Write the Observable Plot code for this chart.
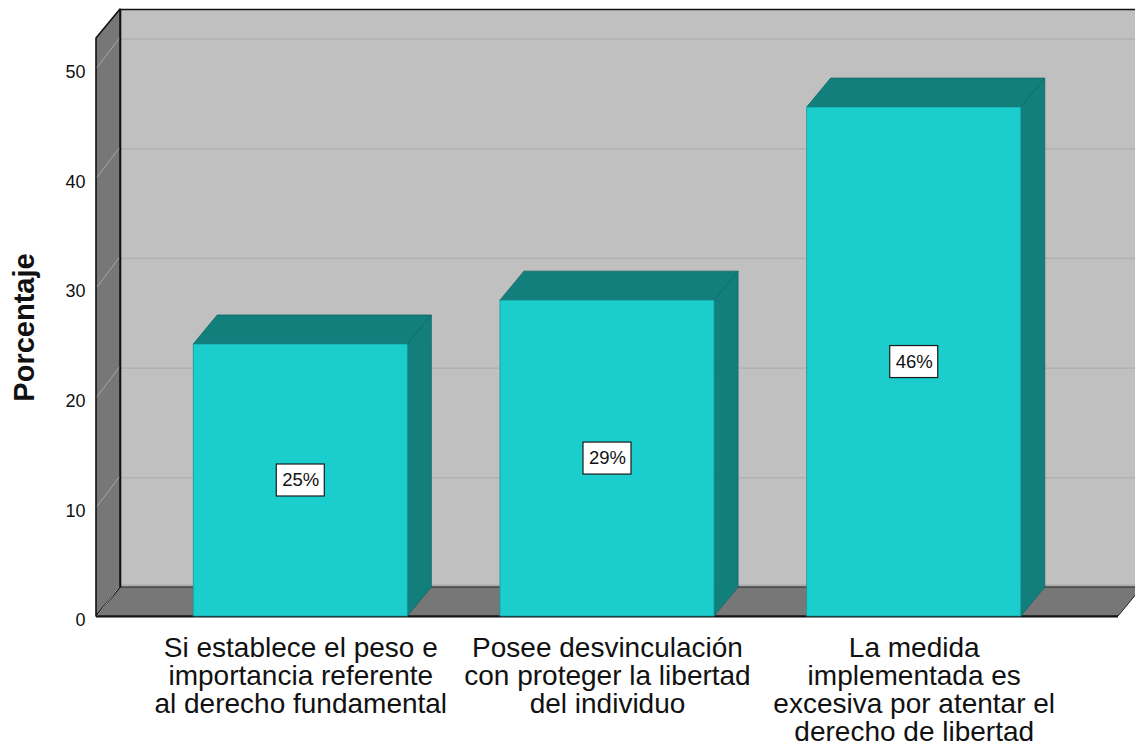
<!DOCTYPE html>
<html>
<head>
<meta charset="utf-8">
<script src="https://cdn.jsdelivr.net/npm/d3@7"></script>
<script src="https://cdn.jsdelivr.net/npm/@observablehq/plot@0.6"></script>
<style>
  html, body { margin: 0; padding: 0; background: #ffffff; overflow: hidden; }
  #chart { width: 1135px; height: 747px; }
</style>
</head>
<body>
<div id="chart"></div>
<script>
// ---- data ----
const categories = [
  "Si establece el peso e\nimportancia referente\nal derecho fundamental",
  "Posee desvinculación\ncon proteger la libertad\ndel individuo",
  "La medida\nimplementada es\nexcesiva por atentar el\nderecho de libertad"
];
const values = [24.8, 28.8, 46.4];
const valueLabels = ["25%", "29%", "46%"];
const yTicks = [0, 10, 20, 30, 40, 50];
const yTitle = "Porcentaje";

// ---- layout / style constants ----
const xDomain = [-0.666, 2.666];
const yDomain = [0, 52.7];
const half = 0.349;          // half bar width in band units
const DX = 24, DY = -29;     // 3D depth offset in pixels
const FONT = "'Liberation Sans', Arial, sans-serif";

const bars = categories.map((c, i) => ({i, cat: c, value: values[i], label: valueLabels[i]}));

function poly(g, pts, fill, stroke, sw) {
  g.append("polygon")
    .attr("points", pts.map(p => p.join(",")).join(" "))
    .attr("fill", fill)
    .attr("stroke", stroke || "none")
    .attr("stroke-width", sw || 1)
    .attr("stroke-linejoin", "round");
}

// left wall + floor drawn through the scales
const wallsMark = (index, scales) => {
  const sx = scales.x, sy = scales.y;
  const g = d3.create("svg:g");
  const xl = sx(xDomain[0]), xr = sx(xDomain[1]);
  const y0 = sy(0), yt = sy(yDomain[1]);
  // floor
  poly(g, [[xl, y0], [xr, y0], [xr + DX, y0 + DY], [xl + DX, y0 + DY]], "#777777", "#222", 1);
  // left wall
  poly(g, [[xl, y0], [xl, yt], [xl + DX, yt + DY], [xl + DX, y0 + DY]], "#777777", "#111", 1.6);
  // left wall gridlines
  for (const v of yTicks) {
    g.append("line")
      .attr("x1", xl + 1).attr("y1", sy(v))
      .attr("x2", xl + DX - 1).attr("y2", sy(v) + DY)
      .attr("stroke", "#a6a6a6").attr("stroke-width", 1);
  }
  return g.node();
};

// bar top & side faces
const barFacesMark = (index, scales) => {
  const sx = scales.x, sy = scales.y;
  const g = d3.create("svg:g");
  for (const d of bars) {
    const x1 = sx(d.i - half), x2 = sx(d.i + half);
    const y0 = sy(0), yv = sy(d.value);
    poly(g, [[x2, y0], [x2, yv], [x2 + DX, yv + DY], [x2 + DX, y0 + DY]], "#127f7d", "#0e6866", 0.8);
    poly(g, [[x1, yv], [x2, yv], [x2 + DX, yv + DY], [x1 + DX, yv + DY]], "#127f7d", "#0e6866", 0.8);
  }
  return g.node();
};

// white label boxes
const labelBoxMark = (index, scales) => {
  const sx = scales.x, sy = scales.y;
  const g = d3.create("svg:g");
  for (const d of bars) {
    g.append("rect")
      .attr("x", sx(d.i) - 24).attr("y", sy(d.value / 2) - 16)
      .attr("width", 48).attr("height", 32)
      .attr("fill", "#ffffff").attr("stroke", "#1a1a1a").attr("stroke-width", 1.2);
  }
  return g.node();
};

const chart = Plot.plot({
  width: 1135,
  height: 747,
  marginLeft: 96,
  marginRight: 17,
  marginTop: 38,
  marginBottom: 131,
  style: {fontFamily: FONT, background: "#ffffff"},
  x: {type: "linear", domain: xDomain, axis: null},
  y: {type: "linear", domain: yDomain, axis: null},
  marks: [
    // back wall
    Plot.rect([{x1: xDomain[0], x2: xDomain[1], y1: yDomain[0], y2: yDomain[1]}],
      {x1: "x1", x2: "x2", y1: "y1", y2: "y2", dx: DX, dy: DY, fill: "#c0c0c0"}),
    // back wall gridlines
    Plot.ruleY(yTicks.filter(v => v > 0), {dx: DX, dy: DY, stroke: "#aeaeae", strokeWidth: 1.2}),
    Plot.ruleY([0], {dx: DX, dy: DY - 1.5, stroke: "#a9a9a9", strokeWidth: 3}),
    // back wall top & left edges
    Plot.ruleY([yDomain[1]], {dx: DX, dy: DY, stroke: "#111", strokeWidth: 1.6}),
    Plot.ruleX([xDomain[0]], {y1: yDomain[0], y2: yDomain[1], dx: DX, dy: DY, stroke: "#111", strokeWidth: 1.6}),
    // floor and left wall
    wallsMark,
    // floor front edge
    Plot.ruleY([0], {stroke: "#111", strokeWidth: 2}),
    // bars
    barFacesMark,
    Plot.rect(bars, {x1: d => d.i - half, x2: d => d.i + half, y1: 0, y2: "value",
      fill: "#1ccdcd", stroke: "#169a9a", strokeWidth: 0.8}),
    // value labels
    labelBoxMark,
    Plot.text(bars, {x: "i", y: d => d.value / 2, text: "label", fontSize: 18.5,
      fill: "#111", fontFamily: FONT}),
    // y tick labels
    Plot.text(yTicks, {x: xDomain[0], y: d => d, text: d => String(d), textAnchor: "end",
      dx: -11, dy: 4, fontSize: 18, fill: "#111", fontFamily: FONT}),
    // y title
    Plot.text([yTitle], {frameAnchor: "left", text: d => d, rotate: -90, dx: -72,
      textAnchor: "middle", lineAnchor: "middle",
      fontSize: 29, fontWeight: "bold", fill: "#111", fontFamily: FONT}),
    // x category labels
    Plot.text(bars, {x: "i", y: 0, text: "cat", lineAnchor: "top", dy: 20,
      fontSize: 28, lineHeight: 1.01, fill: "#111", fontFamily: FONT})
  ]
});

document.getElementById("chart").appendChild(chart);
</script>
</body>
</html>
